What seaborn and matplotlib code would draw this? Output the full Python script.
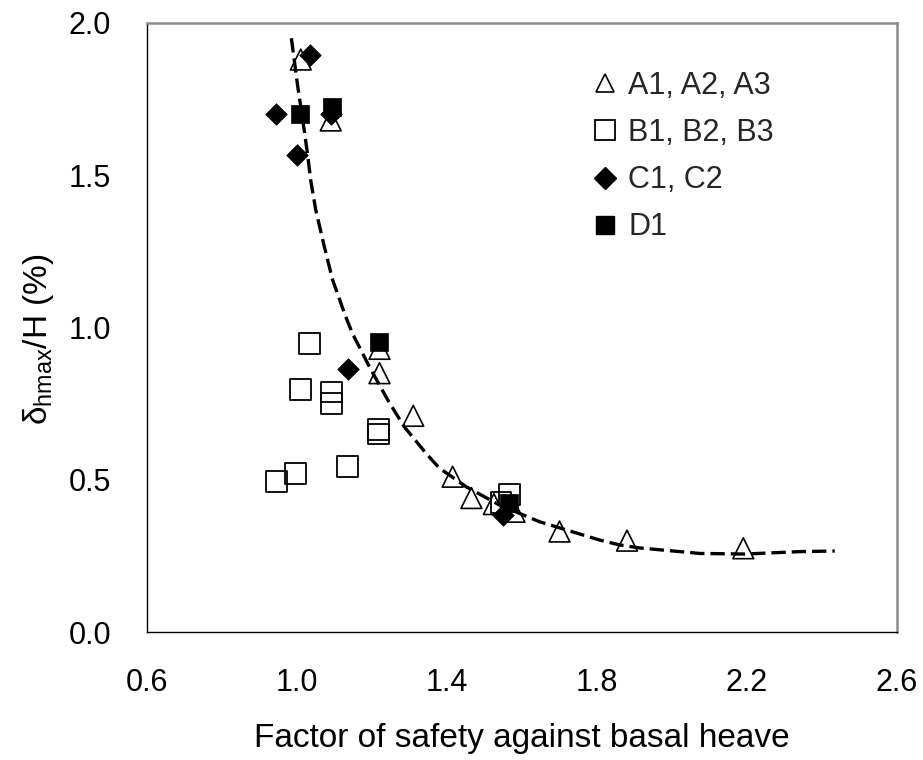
import matplotlib
matplotlib.use("Agg")
import matplotlib.pyplot as plt
import seaborn as sns
import pandas as pd
from matplotlib.lines import Line2D

# ---- data ----
a_x = [1.01, 1.09, 1.22, 1.22, 1.31, 1.415, 1.465, 1.525, 1.58, 1.70, 1.88, 2.19]
a_y = [1.88, 1.68, 0.93, 0.85, 0.71, 0.51, 0.44, 0.42, 0.395, 0.33, 0.30, 0.275]

b_x = [1.034, 1.010, 1.093, 1.093, 1.218, 1.218, 1.135, 0.997, 0.945, 1.567, 1.544]
b_y = [0.948, 0.797, 0.788, 0.751, 0.664, 0.650, 0.543, 0.521, 0.494, 0.452, 0.425]

c_x = [1.034, 0.945, 0.999, 1.09, 1.135, 1.548]
c_y = [1.895, 1.70, 1.566, 1.70, 0.863, 0.384]

d_x = [1.009, 1.093, 1.218, 1.565]
d_y = [1.70, 1.725, 0.953, 0.425]

curve_x = [0.985, 1.001, 1.019, 1.028, 1.037, 1.05, 1.073, 1.095, 1.13, 1.148, 1.193,
           1.242, 1.286, 1.344, 1.362, 1.38, 1.451, 1.54, 1.647, 1.807, 1.86, 1.914,
           2.074, 2.194, 2.341, 2.434]
curve_y = [1.95, 1.80, 1.65, 1.57, 1.48, 1.386, 1.265, 1.156, 1.035, 0.98, 0.871,
           0.762, 0.674, 0.587, 0.562, 0.538, 0.477, 0.417, 0.362, 0.302, 0.286, 0.276,
           0.258, 0.256, 0.264, 0.266]

labels = ["A1, A2, A3", "B1, B2, B3", "C1, C2", "D1"]
x_ticks = [0.6, 1.0, 1.4, 1.8, 2.2, 2.6]
y_ticks = [0.0, 0.5, 1.0, 1.5, 2.0]

# ---- style ----
sns.set_theme(style="white")
plt.rcParams["font.family"] = ["Liberation Sans", "DejaVu Sans"]
plt.rcParams["mathtext.fontset"] = "custom"
plt.rcParams["mathtext.rm"] = "Liberation Sans"
plt.rcParams["mathtext.it"] = "Liberation Sans"

fig = plt.figure(figsize=(9.23, 7.6), dpi=100)
ax = fig.add_axes([147 / 923, 1 - 632 / 760, 750 / 923, 609 / 760])

df_a = pd.DataFrame({"x": a_x, "y": a_y})
df_b = pd.DataFrame({"x": b_x, "y": b_y})
df_c = pd.DataFrame({"x": c_x, "y": c_y})
df_d = pd.DataFrame({"x": d_x, "y": d_y})

sns.scatterplot(data=df_a, x="x", y="y", marker="^", s=15 ** 2, facecolor="none",
                edgecolor="black", linewidth=1.2, ax=ax, zorder=2)
sns.scatterplot(data=df_b, x="x", y="y", marker="s", s=15 ** 2, facecolor="none",
                edgecolor="black", linewidth=1.3, ax=ax, zorder=2)
sns.scatterplot(data=df_c, x="x", y="y", marker="D", s=11 ** 2, color="black",
                edgecolor="black", linewidth=0.5, ax=ax, zorder=2)
sns.scatterplot(data=df_d, x="x", y="y", marker="s", s=13.5 ** 2, color="black",
                edgecolor="black", linewidth=0.5, ax=ax, zorder=2)

sns.lineplot(x=curve_x, y=curve_y, sort=False, estimator=None, color="black",
             linewidth=2.4, linestyle=(0, (4.3, 1.8)), ax=ax, zorder=3)

ax.set_xlim(0.6, 2.6)
ax.set_ylim(0.0, 2.0)
ax.set_xticks(x_ticks)
ax.set_yticks(y_ticks)
ax.set_xticklabels([f"{v:.1f}" for v in x_ticks])
ax.set_yticklabels([f"{v:.1f}" for v in y_ticks])
ax.tick_params(axis="both", direction="in", length=8, width=0.8, color="black",
               labelsize=22, labelcolor="black", pad=26)
ax.tick_params(axis="x", pad=26)

for side in ["left", "bottom"]:
    ax.spines[side].set_color("black")
    ax.spines[side].set_linewidth(1.0)
for side in ["top", "right"]:
    ax.spines[side].set_color("#8c8c8c")
    ax.spines[side].set_linewidth(1.8)

ax.set_xlabel("Factor of safety against basal heave", fontsize=24, color="black", labelpad=18)
ax.set_ylabel("δ$_{\\mathrm{hmax}}$/H (%)", fontsize=24, color="black", labelpad=9)
ax.yaxis.label.set_y(0.48)

handles = [
    Line2D([], [], marker="^", linestyle="none", markersize=13, markerfacecolor="none",
           markeredgecolor="black", markeredgewidth=1.2),
    Line2D([], [], marker="s", linestyle="none", markersize=14, markerfacecolor="none",
           markeredgecolor="black", markeredgewidth=1.3),
    Line2D([], [], marker="D", linestyle="none", markersize=11, markerfacecolor="black",
           markeredgecolor="black"),
    Line2D([], [], marker="s", linestyle="none", markersize=13, markerfacecolor="black",
           markeredgecolor="black"),
]
fig.legend(handles, labels, loc="upper left", bbox_to_anchor=(593 / 923, 1 - 71 / 760),
           bbox_transform=fig.transFigure, frameon=False, fontsize=22, borderpad=0,
           borderaxespad=0, handlelength=0.8, handletextpad=0.35, labelspacing=0.56)

fig.savefig("out.png", dpi=100)
